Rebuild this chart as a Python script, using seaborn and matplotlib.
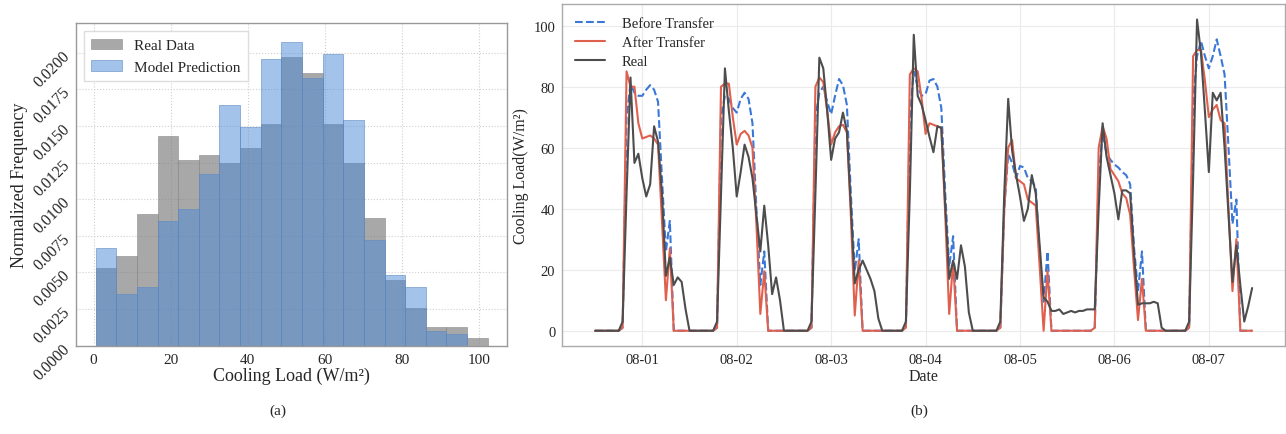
import numpy as np
import pandas as pd
import matplotlib
matplotlib.use("Agg")
import matplotlib.pyplot as plt
import matplotlib.dates as mdates
import seaborn as sns

# ---------------- (a) histogram data ----------------
bin_start = 0.5
bin_end = 102.3
n_bins = 19
real_freq = [0.0053, 0.0061, 0.0090, 0.0143, 0.0127, 0.0130, 0.0125, 0.0135, 0.0151, 0.0197,
             0.0186, 0.0151, 0.0125, 0.0087, 0.0045, 0.0026, 0.0013, 0.0013, 0.0005]
model_freq = [0.0067, 0.0035, 0.0040, 0.0085, 0.0093, 0.0117, 0.0164, 0.0149, 0.0196, 0.0207,
              0.0183, 0.0199, 0.0154, 0.0072, 0.0048, 0.0040, 0.0010, 0.0008, 0.0000]
hist_yticks = [0.0, 0.0025, 0.005, 0.0075, 0.01, 0.0125, 0.015, 0.0175, 0.02]

# ---------------- (b) hourly cooling load ----------------
start_time = "2023-07-31 12:00"
real_load = [
    0, 0, 0, 0, 0, 0, 0, 3, 45, 83, 55, 58, 50, 44, 48, 67, 62, 45, 18, 24, 15, 17.5, 16, 7,
    0, 0, 0, 0, 0, 0, 0, 3, 45, 86, 72, 60, 44, 52, 61, 57, 50, 38, 26, 41, 28, 12, 17.5, 10,
    0, 0, 0, 0, 0, 0, 0, 3, 45, 89.5, 86, 72, 56, 63, 65, 71.5, 65.5, 41, 15.5, 20, 23, 20, 17, 13,
    4, 0, 0, 0, 0, 0, 0, 3, 45, 97, 77, 74, 69, 63.5, 58.5, 67, 66.5, 41, 17, 23, 17, 28, 21, 6,
    0, 0, 0, 0, 0, 0, 0, 3, 45, 76, 59, 51, 44, 36, 40, 51, 45, 28, 11, 9.5, 6.5, 6.5, 7, 5.5,
    6, 6.5, 6, 6.5, 6.5, 7, 7, 7, 40, 68, 57, 51, 45, 36.5, 46, 46, 45, 25, 8.5, 9, 9, 9, 9.5, 9,
    1, 0, 0, 0, 0, 0, 0, 3, 50, 102, 91, 72, 52, 78, 75.5, 78, 60, 38, 16, 28, 15, 3, 8, 14,
]
after_transfer = [
    0, 0, 0, 0, 0, 0, 0, 1, 85, 80, 80, 68, 63, 63.5, 64, 63, 61, 36, 10, 27, 0, 0, 0, 0,
    0, 0, 0, 0, 0, 0, 0, 1, 80, 81, 81, 70, 61, 64.5, 65.5, 64, 60, 35, 5.5, 19.5, 0, 0, 0, 0,
    0, 0, 0, 0, 0, 0, 0, 1, 80, 83, 81.5, 72, 61, 65, 67, 67.5, 65, 38, 5, 23, 0, 0, 0, 0,
    0, 0, 0, 0, 0, 0, 0, 1, 84, 86, 85, 76, 64.5, 68, 67.5, 67, 66.5, 38, 5.5, 22.5, 0, 0, 0, 0,
    0, 0, 0, 0, 0, 0, 0, 1, 40, 60, 62.5, 50, 49, 48, 43, 42, 41, 21, 0, 19.5, 0, 0, 0, 0,
    0, 0, 0, 0, 0, 0, 0, 1, 60, 67, 63, 53, 51, 49, 45, 43.5, 38, 20, 3.5, 17, 0, 0, 0, 0,
    0, 0, 0, 0, 0, 0, 0, 1, 90, 92, 92, 82, 70, 72.5, 74, 69, 68, 40, 13, 30, 0, 0, 0, 0,
]
before_transfer = [
    0, 0, 0, 0, 0, 0, 0, 1, 70, 81, 78, 77, 77, 79, 80.5, 79, 75, 50, 26, 36, 0, 0, 0, 0,
    0, 0, 0, 0, 0, 0, 0, 1, 70, 77, 76, 73, 71.5, 76, 78, 76, 68, 40, 15, 26, 0, 0, 0, 0,
    0, 0, 0, 0, 0, 0, 0, 1, 70, 78, 80, 75, 71, 77, 82.5, 80.5, 74, 45, 19.5, 30, 0, 0, 0, 0,
    0, 0, 0, 0, 0, 0, 0, 1, 70, 85, 80, 77, 77.5, 82, 82.5, 80, 73, 45, 21, 31, 0, 0, 0, 0,
    0, 0, 0, 0, 0, 0, 0, 1, 40, 58, 55, 50, 54, 53.5, 50, 49, 47, 25, 9.5, 26, 0, 0, 0, 0,
    0, 0, 0, 0, 0, 0, 0, 1, 50, 65, 58, 56, 54.5, 53.5, 52, 51, 48, 27, 13, 26, 0, 0, 0, 0,
    0, 0, 0, 0, 0, 0, 0, 1, 75, 90, 95, 90, 86, 90, 95.5, 90, 84, 60, 35, 43, 0, 0, 0, 0,
]

sns.set_theme(style="whitegrid")
plt.rcParams["font.family"] = ["Liberation Serif", "DejaVu Serif"]
plt.rcParams["mathtext.fontset"] = "stix"

fig = plt.figure(figsize=(12.86, 4.35), dpi=100)

# ---------- (a) ----------
ax1 = fig.add_axes([0.0591, 0.203, 0.3354, 0.741])
binw = (bin_end - bin_start) / n_bins
centers = [bin_start + binw * (k + 0.5) for k in range(n_bins)]
real_df = pd.DataFrame({"load": centers, "freq": real_freq})
model_df = pd.DataFrame({"load": centers, "freq": model_freq})
sns.histplot(data=real_df, x="load", weights="freq", bins=n_bins,
             binrange=(bin_start, bin_end), stat="count", color="#7a7a7a", alpha=0.65,
             edgecolor="#8a8a8a", linewidth=0.4, ax=ax1, label="Real Data")
sns.histplot(data=model_df, x="load", weights="freq", bins=n_bins,
             binrange=(bin_start, bin_end), stat="count", color="#4b89d9", alpha=0.5,
             edgecolor="#5a88c0", linewidth=0.4, ax=ax1, label="Model Prediction")
ax1.set_ylim(0, 0.0220)
ax1.set_yticks(hist_yticks)
ax1.set_yticklabels([f"{v:.4f}" for v in hist_yticks], rotation=45,
                    ha="right", va="center", rotation_mode="anchor")
ax1.set_xticks([0, 20, 40, 60, 80, 100])
ax1.set_xlabel("Cooling Load (W/m²)", fontsize=13, labelpad=1)
ax1.set_ylabel("Normalized Frequency", fontsize=13, labelpad=2)
ax1.tick_params(axis="x", labelsize=11, length=3, color="#888888", pad=2)
ax1.tick_params(axis="y", labelsize=11.5, length=3, color="#888888", pad=3)
ax1.grid(True, linestyle=":", color="#cfcfcf", linewidth=0.8)
for s in ax1.spines.values():
    s.set_color("#999999")
    s.set_linewidth(1.0)
ax1.legend(loc="upper left", fontsize=11, frameon=True, framealpha=1,
           edgecolor="#dddddd", fancybox=False, borderpad=0.5, labelspacing=0.5)

# ---------- (b) ----------
ax2 = fig.add_axes([0.4372, 0.2016, 0.562, 0.787])
times = pd.date_range(start_time, periods=len(real_load), freq="h")
line_df = pd.DataFrame({
    "Date": np.tile(times, 3),
    "load": np.concatenate([before_transfer, after_transfer, real_load]),
    "series": (["Before Transfer"] * len(times) + ["After Transfer"] * len(times)
               + ["Real"] * len(times)),
})
palette = {"Before Transfer": "#3a78d8", "After Transfer": "#e0604e", "Real": "#4d4d4d"}
sns.lineplot(data=line_df[line_df.series == "Before Transfer"], x="Date", y="load",
             color=palette["Before Transfer"], linestyle="--", linewidth=1.5,
             ax=ax2, label="Before Transfer")
sns.lineplot(data=line_df[line_df.series == "After Transfer"], x="Date", y="load",
             color=palette["After Transfer"], linewidth=1.5, ax=ax2, label="After Transfer")
sns.lineplot(data=line_df[line_df.series == "Real"], x="Date", y="load",
             color=palette["Real"], linewidth=1.5, ax=ax2, label="Real")
ax2.xaxis.set_major_locator(mdates.DayLocator())
ax2.xaxis.set_major_formatter(mdates.DateFormatter("%m-%d"))
ax2.set_yticks([0, 20, 40, 60, 80, 100])
ax2.set_xlabel("Date", fontsize=11.5, labelpad=1)
ax2.set_ylabel("Cooling Load(W/m²)", fontsize=11.5, labelpad=3)
ax2.tick_params(axis="both", labelsize=10.5, length=3, color="#888888", pad=2)
ax2.grid(True, linestyle="-", color="#ebebeb", linewidth=0.8)
for s in ax2.spines.values():
    s.set_color("#aaaaaa")
    s.set_linewidth(1.0)
ax2.legend(loc="upper left", fontsize=10.5, frameon=False, borderaxespad=0.5,
           labelspacing=0.38, handletextpad=1.2)

fig.text(0.216, 0.055, "(a)", ha="center", va="center", fontsize=11)
fig.text(0.715, 0.055, "(b)", ha="center", va="center", fontsize=11)

fig.savefig("out.png", dpi=100)
